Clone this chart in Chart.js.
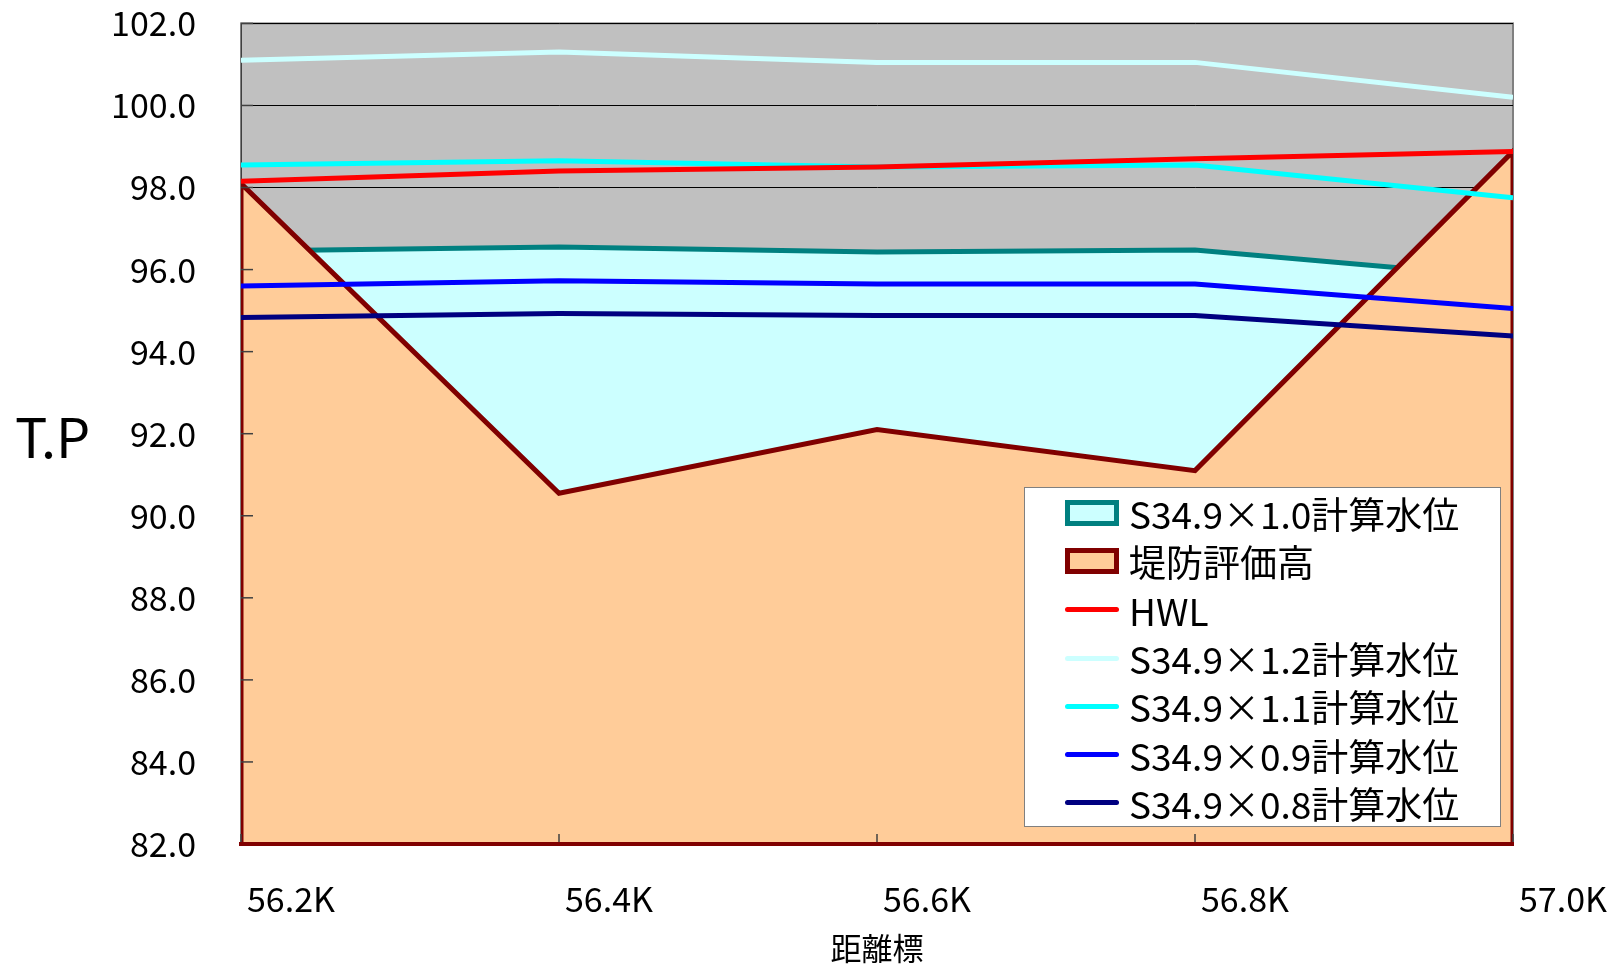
<!DOCTYPE html>
<html>
<head>
<meta charset="utf-8">
<script src="https://cdn.jsdelivr.net/npm/chart.js@4"></script>
<style>
body{margin:0;background:#fff;font-family:"Noto Sans CJK JP",sans-serif}
#wrap{position:relative;width:1614px;height:964px}
#legend{position:absolute;left:1024px;top:487px;width:475px;height:337px;border:1px solid #808080;background:#fff;padding-top:1px}
.item{display:flex;align-items:center;height:48.3px;font-size:37px;color:#000;white-space:nowrap}
.mark{width:54px;margin-left:40px;margin-right:10px;box-sizing:border-box}
</style>
</head>
<body>
<div id="wrap">
<canvas id="chart" width="1614" height="964"></canvas>
<div id="legend"></div>
</div>
<script>
const xLabels = ["56.2K", "56.4K", "56.6K", "56.8K", "57.0K"]
const yMin = 82
const yMax = 102

// 水位・堤防高 (T.P)
const q10 = [96.45, 96.55, 96.43, 96.48, 95.8]
const levee = [98.1, 90.55, 92.1, 91.1, 98.88]
const hwl = [98.15, 98.4, 98.5, 98.7, 98.88]
const q12 = [101.1, 101.3, 101.05, 101.05, 100.2]
const q11 = [98.55, 98.65, 98.5, 98.55, 97.75]
const q09 = [95.6, 95.73, 95.65, 95.65, 95.05]
const q08 = [94.83, 94.93, 94.88, 94.88, 94.38]

function pts(arr){
  return arr.map((v, i) => ({x: i, y: v}))
}

// 堤防は外周も線で囲む
let leveePts = [{x: 0, y: yMin}].concat(pts(levee), [{x: levee.length - 1, y: yMin}])

function lineSet(label, data, color){
  return {label: label, data: pts(data), borderColor: color, backgroundColor: color, borderWidth: 5,
    fill: false, pointRadius: 0, tension: 0, order: 0, kind: "line"}
}

const datasets = [
  {label: "S34.9×1.0計算水位", data: pts(q10), borderColor: "#008080", backgroundColor: "#CCFFFF",
    borderWidth: 5, fill: "start", pointRadius: 0, tension: 0, order: 2, kind: "area"},
  {label: "堤防評価高", data: leveePts, borderColor: "#800000", backgroundColor: "#FFCC99",
    borderWidth: 5, fill: "start", pointRadius: 0, tension: 0, order: 1, kind: "area"},
  lineSet("HWL", hwl, "#FF0000"),
  lineSet("S34.9×1.2計算水位", q12, "#CCFFFF"),
  lineSet("S34.9×1.1計算水位", q11, "#00FFFF"),
  lineSet("S34.9×0.9計算水位", q09, "#0000FF"),
  lineSet("S34.9×0.8計算水位", q08, "#000080")
]

const plotBg = {
  id: "plotBg",
  beforeDraw(chart){
    const {ctx, chartArea: a} = chart
    ctx.save()
    ctx.fillStyle = "#C0C0C0"
    ctx.fillRect(a.left, a.top, a.width, a.height)
    ctx.strokeStyle = "#808080"
    ctx.lineWidth = 2
    ctx.strokeRect(a.left, a.top, a.width, a.height)
    ctx.restore()
  },
  afterDatasetsDraw(chart){
    const {ctx, chartArea: a, scales: {x, y}} = chart
    ctx.save()
    ctx.strokeStyle = "#404040"
    ctx.lineWidth = 1.5
    y.ticks.forEach(t => {
      let py = y.getPixelForValue(t.value)
      ctx.beginPath(); ctx.moveTo(a.left, py); ctx.lineTo(a.left + 12, py); ctx.stroke()
    })
    x.ticks.forEach(t => {
      let px = x.getPixelForValue(t.value)
      ctx.beginPath(); ctx.moveTo(px, a.bottom); ctx.lineTo(px, a.bottom - 10); ctx.stroke()
    })
    ctx.fillStyle = "#000"
    ctx.font = '54px "Noto Sans CJK JP"'
    ctx.textBaseline = "middle"
    ctx.fillText("T.P", 15, 437)
    ctx.restore()
  }
}

Chart.defaults.font.family = '"Noto Sans CJK JP", sans-serif'
Chart.defaults.color = "#000"

new Chart(document.getElementById("chart"), {
  type: "line",
  data: {datasets: datasets},
  plugins: [plotBg],
  options: {
    responsive: false,
    animation: false,
    layout: {padding: {left: 0, right: 101, top: 19, bottom: 0}},
    plugins: {legend: {display: false}, tooltip: {enabled: false}},
    scales: {
      x: {
        type: "linear", min: 0, max: xLabels.length - 1,
        grid: {display: false, drawTicks: true, tickLength: 33, tickColor: "rgba(0,0,0,0)"},
        border: {display: true, color: "#800000", width: 4, z: 1},
        ticks: {stepSize: 1, align: "start", labelOffset: 6, padding: 2, maxRotation: 0, autoSkip: false,
          font: {size: 34}, callback: v => xLabels[v]},
        title: {display: true, text: "距離標", font: {size: 31}, padding: {top: 0, bottom: -3}},
        afterFit: s => { s.height = 120 }
      },
      y: {
        min: yMin, max: yMax,
        grid: {color: "#000", lineWidth: 1, drawTicks: true, tickLength: 42, tickColor: "rgba(0,0,0,0)"},
        border: {display: true, color: "#404040", width: 1},
        ticks: {stepSize: 2, padding: 3, font: {size: 34}, callback: v => v.toFixed(1)},
        afterFit: s => { s.width = 241 }
      }
    }
  }
})

// 凡例
let legendBox = document.getElementById("legend")
datasets.forEach(ds => {
  let mark = ds.kind == "area"
    ? `<div class="mark" style="height:26px;border:5px solid ${ds.borderColor};background:${ds.backgroundColor}"></div>`
    : `<div class="mark" style="height:5px;border-radius:3px;background:${ds.borderColor}"></div>`
  legendBox.innerHTML += `<div class="item">${mark}<span>${ds.label}</span></div>`
})
</script>
</body>
</html>
